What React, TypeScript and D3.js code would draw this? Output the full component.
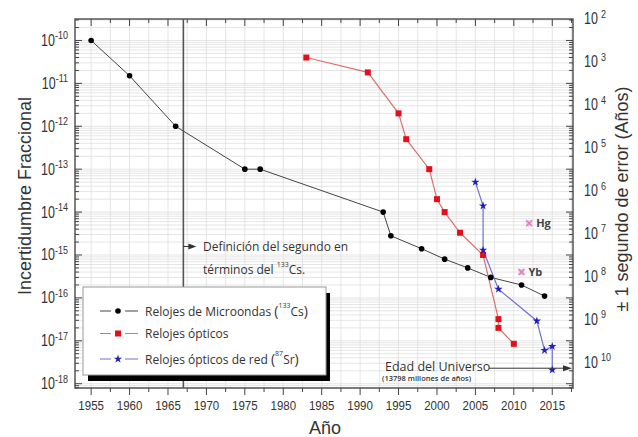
import React from "react";
import * as d3 from "d3";

const microYears = [1955, 1960, 1966, 1975, 1977, 1993, 1994, 1998, 2001, 2004, 2007, 2011, 2014];
const microVals = [1e-10, 1.5e-11, 1e-12, 1e-13, 1e-13, 1e-14, 2.8e-15, 1.4e-15, 8e-16, 5e-16, 3e-16, 2e-16, 1.1e-16];
const opticalYears = [1983, 1991, 1995, 1996, 1999, 2000, 2001, 2003, 2006, 2008, 2008, 2010];
const opticalVals = [4e-11, 1.8e-11, 2e-12, 5e-13, 1e-13, 2e-14, 1e-14, 3.3e-15, 1e-15, 3.2e-17, 2e-17, 8.5e-18];
const latticeYears = [2005, 2006, 2006, 2008, 2013, 2014, 2015, 2015];
const latticeVals = [5e-14, 1.4e-14, 1.3e-15, 1.6e-16, 2.9e-17, 6e-18, 7.4e-18, 2.1e-18];
const ionYears = [2012, 2011];
const ionVals = [5.5e-15, 4e-16];
const ionLabels = ["Hg", "Yb"];
const xTickYears = [1955, 1960, 1965, 1970, 1975, 1980, 1985, 1990, 1995, 2000, 2005, 2010, 2015];
const leftExponents = [-10, -11, -12, -13, -14, -15, -16, -17, -18];
const rightExponents = [2, 3, 4, 5, 6, 7, 8, 9, 10];
const csDefinitionYear = 1967;
const universeAgeYears = 13.798e9;
const secondsPerYear = 31557600;

const W = 638, H = 437;
const L = 75, R = 573, T = 19, B = 388;
const SANS = "'Liberation Sans', Arial, sans-serif";
const OPEN = "'Open Sans', sans-serif";

export default function App() {
  const x = d3.scaleLinear().domain([1952.9, 2017.7]).range([L, R]);
  const y = d3.scaleLog().domain([Math.pow(10, -9.5), Math.pow(10, -18.1)]).range([T, B]);
  const [yMin, yMax] = [Math.pow(10, -18.1), Math.pow(10, -9.5)];

  const yTicks: { v: number; major: boolean }[] = [];
  for (let n = -19; n <= -10; n++) {
    for (let k = 1; k <= 9; k++) {
      const v = k * Math.pow(10, n);
      if (v >= yMin && v <= yMax) yTicks.push({ v, major: k === 1 });
    }
  }
  const xTicks: { v: number; major: boolean }[] = [];
  for (let v = 1955; v <= 2017.5; v += 2.5) xTicks.push({ v, major: v % 5 === 0 });

  const line = d3.line<[number, number]>().x(d => x(d[0])).y(d => y(d[1]));
  const micro = microYears.map((yr, i) => [yr, microVals[i]] as [number, number]);
  const optical = opticalYears.map((yr, i) => [yr, opticalVals[i]] as [number, number]);
  const lattice = latticeYears.map((yr, i) => [yr, latticeVals[i]] as [number, number]);

  const star = d3.symbol().type(d3.symbolStar).size(22)()!;

  const circleM = (cx: number, cy: number, k: string) => <circle key={k} cx={cx} cy={cy} r={2.8} fill="#000" />;
  const squareM = (cx: number, cy: number, k: string) => <rect key={k} x={cx - 3} y={cy - 3} width={6} height={6} fill="#e3101c" />;
  const starM = (cx: number, cy: number, k: string) => <path key={k} d={star} transform={`translate(${cx},${cy})`} fill="#1f1fc0" />;

  const uniY = y(1 / (universeAgeYears * secondsPerYear));
  const x67 = x(csDefinitionYear);

  return (
    <svg width={W} height={H} style={{ position: "absolute", left: 0, top: 0, background: "#fff" }}>
      <rect width={W} height={H} fill="#fff" />
      {/* grid */}
      <g stroke="#dedede" strokeWidth={0.8}>
        {xTicks.map((t, i) => <line key={"gx" + i} x1={x(t.v)} x2={x(t.v)} y1={T} y2={B} />)}
        {yTicks.map((t, i) => <line key={"gy" + i} x1={L} x2={R} y1={y(t.v)} y2={y(t.v)} />)}
      </g>
      {/* definition line */}
      <line x1={x67} x2={x67} y1={T} y2={B} stroke="#555" strokeWidth={1.6} />
      {/* series */}
      <path d={line(micro)!} fill="none" stroke="#444" strokeWidth={1} />
      <path d={line(optical)!} fill="none" stroke="#dd7070" strokeWidth={1.2} />
      <path d={line(lattice)!} fill="none" stroke="#7070d0" strokeWidth={1.2} />
      {micro.map((d, i) => circleM(x(d[0]), y(d[1]), "m" + i))}
      {optical.map((d, i) => squareM(x(d[0]), y(d[1]), "o" + i))}
      {lattice.map((d, i) => starM(x(d[0]), y(d[1]), "l" + i))}
      {ionYears.map((yr, i) => {
        const cx = x(yr), cy = y(ionVals[i]);
        return (
          <g key={"ion" + i}>
            <rect x={cx - 3} y={cy - 3} width={6} height={6} fill="#f2c8e8" />
            <path d={`M${cx - 3},${cy - 3}L${cx + 3},${cy + 3}M${cx - 3},${cy + 3}L${cx + 3},${cy - 3}`} stroke="#d67ac4" strokeWidth={1.3} />
            <text x={cx + 7} y={cy + 4} fontFamily={OPEN} fontWeight={700} fontSize={11} fill="#444">{ionLabels[i]}</text>
          </g>
        );
      })}
      {/* definition annotation */}
      <g fill="#333" fontFamily={OPEN} fontSize={12}>
        <line x1={x67} x2={x67 + 7} y1={246.5} y2={246.5} stroke="#333" strokeWidth={1} />
        <path d={`M${x67 + 5},${243.5} L${x67 + 13},${246.5} L${x67 + 5},${249.5} Z`} fill="#333" />
        <text x={203} y={251}>Definición del segundo en</text>
        <text x={203} y={274}>términos del <tspan fontSize={7} dy={-7}>133</tspan><tspan dy={7}>Cs.</tspan></text>
      </g>
      {/* universe age */}
      <g fill="#333" fontFamily={OPEN}>
        <text x={385} y={370.5} fontSize={12.5}>Edad del Universo</text>
        <text x={382} y={381} fontSize={7.5} fontWeight={600}>(13798 millones de años)</text>
        <line x1={489} x2={566} y1={uniY} y2={uniY} stroke="#333" strokeWidth={1} />
        <path d={`M${563},${uniY - 3} L${572},${uniY} L${563},${uniY + 3} Z`} fill="#333" />
      </g>
      {/* legend */}
      <rect x={88} y={293} width={242} height={88} fill="#000" />
      <rect x={83} y={287} width={243} height={88} fill="#fff" stroke="#999" strokeWidth={1} />
      <g fontFamily={OPEN} fontSize={12} fill="#333">
        <line x1={100} x2={138} y1={311} y2={311} stroke="#444" strokeWidth={1} />
        <rect x={111} y={305} width={14} height={12} fill="#fff" />
        {circleM(118, 311, "lg1")}
        <text x={145} y={315.5}>Relojes de Microondas <tspan fontSize={14}>(</tspan><tspan fontSize={7} dy={-8}>133</tspan><tspan dy={8}>Cs</tspan><tspan fontSize={14}>)</tspan></text>
        <line x1={100} x2={138} y1={333.5} y2={333.5} stroke="#dd7070" strokeWidth={1} />
        <rect x={111} y={327} width={14} height={12} fill="#fff" />
        {squareM(118, 333.5, "lg2")}
        <text x={145} y={338}>Relojes ópticos</text>
        <line x1={100} x2={138} y1={359} y2={359} stroke="#7070d0" strokeWidth={1} />
        <rect x={111} y={353} width={14} height={12} fill="#fff" />
        {starM(118, 359, "lg3")}
        <text x={145} y={363.5}>Relojes ópticos de red <tspan fontSize={14}>(</tspan><tspan fontSize={7} dy={-8}>87</tspan><tspan dy={8}>Sr</tspan><tspan fontSize={14}>)</tspan></text>
      </g>
      {/* frame */}
      <rect x={L} y={T} width={R - L} height={B - T} fill="none" stroke="#555" strokeWidth={1.5} />
      {/* ticks */}
      <g stroke="#444" strokeWidth={1}>
        {xTicks.map((t, i) => (
          <g key={"xt" + i}>
            <line x1={x(t.v)} x2={x(t.v)} y1={B} y2={B + (t.major ? 7 : 4)} />
            <line x1={x(t.v)} x2={x(t.v)} y1={T} y2={T + (t.major ? 7 : 4)} />
          </g>
        ))}
        {yTicks.map((t, i) => (
          <g key={"yt" + i}>
            <line x1={L} x2={L + (t.major ? 7 : 4)} y1={y(t.v)} y2={y(t.v)} />
            <line x1={R} x2={R - (t.major ? 7 : 4)} y1={y(t.v)} y2={y(t.v)} />
          </g>
        ))}
      </g>
      {/* x tick labels */}
      <g fontFamily={SANS} fontSize={11.5} fill="#333" textAnchor="middle">
        {xTickYears.map(v => (
          <text key={"xl" + v} transform={`translate(${x(v)},${410}) scale(1,1.15)`}>{v}</text>
        ))}
      </g>
      {/* left tick labels */}
      <g fontFamily={SANS} fill="#333" textAnchor="end">
        {leftExponents.map(n => (
          <text key={"ll" + n} transform={`translate(${68},${y(Math.pow(10, n)) + 5.5}) scale(1,1.3)`} fontSize={12.5}>
            10<tspan fontSize={9} dy={-5}>{String(n)}</tspan>
          </text>
        ))}
      </g>
      {/* right tick labels */}
      <g fontFamily={SANS} fill="#333">
        {rightExponents.map(n => (
          <text key={"rl" + n} transform={`translate(${584},${y(1 / (Math.pow(10, n) * secondsPerYear)) + 5.5}) scale(1,1.3)`} fontSize={12.5}>
            10<tspan fontSize={9} dx={3} dy={-5}>{String(n)}</tspan>
          </text>
        ))}
      </g>
      {/* axis titles */}
      <text transform={`translate(${31},${196}) rotate(-90)`} textAnchor="middle" fontFamily={SANS} fontSize={18} fill="#333">Incertidumbre Fraccional</text>
      <text transform={`translate(${628},${199}) rotate(-90)`} textAnchor="middle" fontFamily={SANS} fontSize={18} fill="#333">± 1 segundo de error (Años)</text>
      <text x={325} y={434} textAnchor="middle" fontFamily={SANS} fontSize={18} fill="#333">Año</text>
    </svg>
  );
}
